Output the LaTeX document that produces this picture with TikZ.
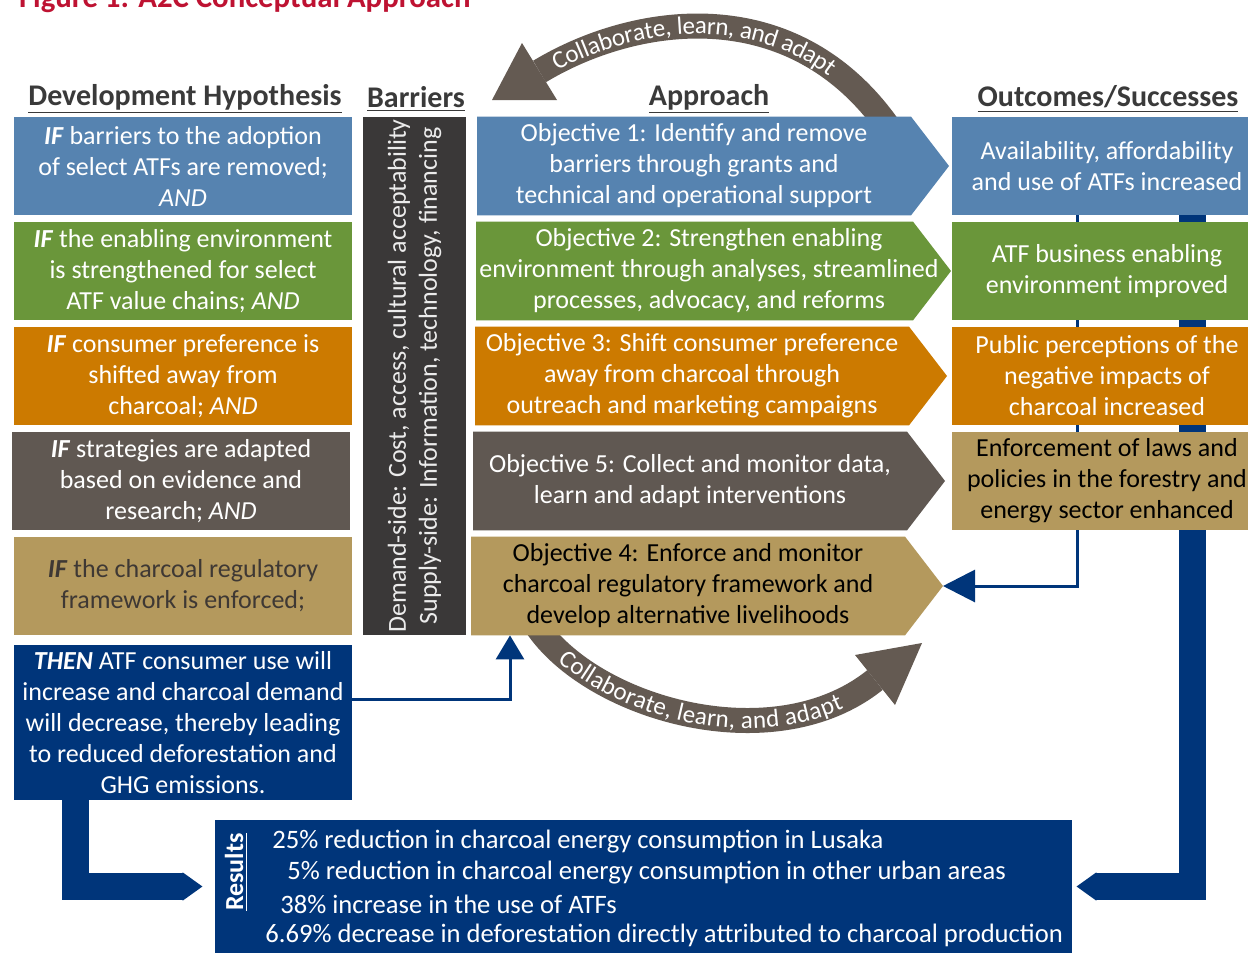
\documentclass[tikz,border=0pt]{standalone}
\usepackage{fontspec}
\setmainfont{Carlito}
\usetikzlibrary{arrows.meta,decorations.text,backgrounds}

\definecolor{hypblue}{RGB}{86,131,176}
\definecolor{hypgreen}{RGB}{106,150,58}
\definecolor{hyporange}{RGB}{204,122,0}
\definecolor{hypgray}{RGB}{96,88,82}
\definecolor{hyptan}{RGB}{180,153,93}
\definecolor{atfnavy}{RGB}{0,53,122}
\definecolor{barrdark}{RGB}{58,56,56}
\definecolor{headgray}{RGB}{58,58,58}
\definecolor{loopbrown}{RGB}{100,90,82}
\definecolor{tantext}{RGB}{62,56,52}
\definecolor{titlered}{RGB}{190,18,50}

\begin{document}
\begin{tikzpicture}[
    x=0.5pt, y=-0.5pt,
    heading/.style={font=\fontsize{15}{15}\selectfont\bfseries, text=headgray},
    boxtext/.style={inner sep=0pt, align=center, text=white, font=\fontsize{13}{15.5}\selectfont},
    hypbox/.style={boxtext, rectangle, minimum width=169pt, minimum height=49pt},
    appbox/.style={boxtext, rectangle, minimum height=49pt},
    outbox/.style={boxtext, rectangle, minimum width=155pt, minimum height=49pt},
    restext/.style={boxtext, anchor=west, font=\fontsize{13.3}{13.3}\selectfont},
    thinlink/.style={draw=atfnavy, line width=1.5pt},
    thicklink/.style={draw=atfnavy, line width=13.5pt},
    loopband/.style={draw=loopbrown, line width=12.5pt},
    looptext/.style={decorate, decoration={text along path, text align={align=left, left indent=#1}, raise=-4pt,
        text={|\color{white}\fontsize{12.5}{12.5}\selectfont|Collaborate, learn, and adapt}}}
    ]

    \useasboundingbox (0,0) rectangle (1248,953);
    \clip (0,0) rectangle (1248,953);

    % title, cut by the top edge
    \node[anchor=base west, font=\fontsize{15.4}{15.4}\selectfont\bfseries, text=titlered] (title) at (12,7) {Figure 1: A2C Conceptual Approach};

    % column headings
    \node[heading] (hdev) at (185,99) {\underline{Development Hypothesis}};
    \node[heading] (hbarr) at (416,99) {\underline{Barriers}};
    \node[heading] (happ) at (709,99) {\underline{Approach}};
    \node[heading] (hout) at (1108,99) {\underline{Outcomes/Successes}};

    % development hypothesis
    \node[hypbox, fill=hypblue] (dh1) at (183,166) {\textbf{\textit{IF}} barriers to the adoption\\of select ATFs are removed;\\\textit{AND}};
    \node[hypbox, fill=hypgreen] (dh2) at (183,271) {\textbf{\textit{IF}} the enabling environment\\is strengthened for select\\ATF value chains; \textit{AND}};
    \node[hypbox, fill=hyporange] (dh3) at (183,376) {\textbf{\textit{IF}} consumer preference is\\shifted away from\\charcoal; \textit{AND}};
    \node[hypbox, fill=hypgray] (dh4) at (181,481) {\textbf{\textit{IF}} strategies are adapted\\based on evidence and\\research; \textit{AND}};
    \node[hypbox, fill=hyptan, text=tantext] (dh5) at (183,586) {\textbf{\textit{IF}} the charcoal regulatory\\framework is enforced;};
    \node[hypbox, fill=atfnavy, minimum height=77.5pt] (dhthen) at (183,722.5) {\textbf{\textit{THEN}} ATF consumer use will\\increase and charcoal demand\\will decrease, thereby leading\\to reduced deforestation and\\GHG emissions.};

    % barriers
    \node[boxtext, fill=barrdark, text=white!92!black, minimum width=259pt, minimum height=51.5pt, rotate=90] (barr) at (414.5,376) {Demand-side: Cost, access, cultural acceptability\\Supply-side: Information, technology, financing};

    % approach (the arrow shapes are filled on the background layer)
    \node[appbox] (ap1) at (694,166) {Objective 1: Identify and remove\\barriers through grants and\\technical and operational support};
    \node[appbox] (ap2) at (709,271) {Objective 2: Strengthen enabling\\environment through analyses, streamlined\\processes, advocacy, and reforms};
    \node[appbox] (ap3) at (692,376) {Objective 3: Shift consumer preference\\away from charcoal through\\outreach and marketing campaigns};
    \node[appbox] (ap5) at (690,481) {Objective 5: Collect and monitor data,\\learn and adapt interventions};
    \node[appbox, text=black] (ap4) at (688,586) {Objective 4: Enforce and monitor\\charcoal regulatory framework and\\develop alternative livelihoods};

    % outcomes
    \node[outbox, fill=hypblue] (out1) at (1107,166) {Availability, affordability\\and use of ATFs increased};
    \node[outbox, fill=hypgreen] (out2) at (1107,271) {ATF business enabling\\environment improved};
    \node[outbox, fill=hyporange] (out3) at (1107,376) {Public perceptions of the\\negative impacts of\\charcoal increased};
    \node[outbox, fill=hyptan, text=black] (out4) at (1107,481) {Enforcement of laws and\\policies in the forestry and\\energy sector enhanced};

    % results
    \node[boxtext, fill=atfnavy, minimum width=428.5pt, minimum height=66.5pt] (res) at (643.5,886.5) {};
    \node[boxtext, font=\fontsize{13}{13}\selectfont\bfseries, rotate=90] (reslabel) at (236,872) {\underline{Results}};
    \node[restext] (res1) at (272,842) {25\% reduction in charcoal energy consumption in Lusaka};
    \node[restext] (res2) at (287,873) {5\% reduction in charcoal energy consumption in other urban areas};
    \node[restext] (res3) at (280,904) {38\% increase in the use of ATFs};
    \node[restext] (res4) at (265,935) {6.69\% decrease in deforestation directly attributed to charcoal production};

    \coordinate (thinx) at (1077,0);
    \coordinate (thickx) at (1192,0);
    \coordinate (thenx) at (75,0);

    \begin{pgfonlayer}{background}
      \fill[white] (0,0) rectangle (1248,953);

      % collaborate, learn, and adapt loops
      \draw[loopband] (539.5,71.5) .. controls (633,15) and (790,-10) .. (887,125);
      \fill[loopbrown] (492,100) -- (522,43) -- (557,100) -- cycle;
      \path[looptext=8pt] (539.5,71.5) .. controls (633,15) and (790,-10) .. (887,125);
      \draw[loopband] (536,625) .. controls (592,709) and (774,761) .. (875,680);
      \fill[loopbrown] (922,643) -- (855,655) -- (895,705) -- cycle;
      \path[looptext=20pt] (536,625) .. controls (592,709) and (774,761) .. (875,680);

      % links behind the boxes
      \draw[thinlink, -{Triangle[length=16pt,width=16pt]}] (out1.south -| thinx) |- ([xshift=127.5pt]ap4.center);
      \draw[thicklink, -{Triangle[length=10pt,width=0pt 1]}, shorten >=2pt] (out1.south -| thickx) |- (res.east);
      \draw[thicklink, -{Triangle[length=10pt,width=0pt 1]}, shorten >=6pt] (dhthen.south -| thenx) |- (res.west);
      \draw[thinlink, -{Triangle[length=12pt,width=14pt]}] ([yshift=11.75pt]dhthen.east) -| ([xshift=-89pt]ap4.south);

      % approach arrows: left and right edge of the body, then a 19pt point
      \foreach \ap/\col/\l/\r in {ap1/hypblue/-108.5/108.5, ap2/hypgreen/-116.5/102, ap3/hyporange/-108.5/108.5,
                                  ap5/hypgray/-108.5/108.5, ap4/hyptan/-108.5/108.5}
        \fill[\col] ([xshift=\l*1pt]\ap.north) -- ([xshift=\r*1pt]\ap.north) -- ([xshift=\r*1pt+19pt]\ap.center)
          -- ([xshift=\r*1pt]\ap.south) -- ([xshift=\l*1pt]\ap.south) -- cycle;
    \end{pgfonlayer}

\end{tikzpicture}
\end{document}
